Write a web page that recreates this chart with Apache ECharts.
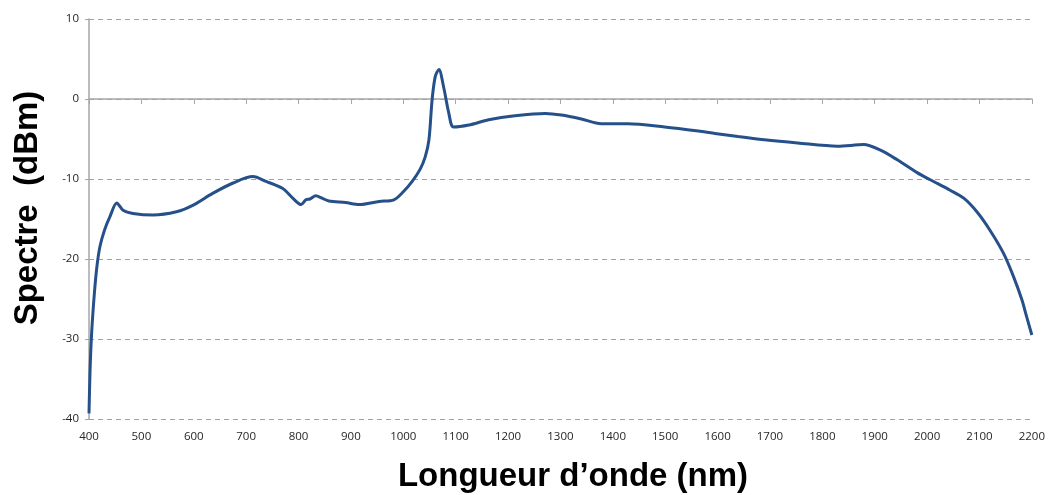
<!DOCTYPE html>
<html>
<head>
<meta charset="utf-8">
<script src="https://cdn.jsdelivr.net/npm/echarts@6/dist/echarts.min.js"></script>
<style>
  html, body { margin: 0; padding: 0; background: #fff; }
  #chart { width: 1048px; height: 495px; }
</style>
</head>
<body>
<div id="chart"></div>
<script>
// Wavelength samples (nm) and measured spectrum (dBm)
const wavelength = [
  400, 402, 405, 410, 415, 421, 430, 440, 453, 465, 484, 522, 567, 598, 636, 675, 713,
  738, 770, 789, 805, 814, 822, 833, 845, 858, 890, 916, 954, 982, 1000, 1017, 1032,
  1042, 1049, 1055, 1061, 1068, 1077, 1087, 1096, 1125, 1163, 1213, 1271, 1302, 1340,
  1378, 1429, 1499, 1563, 1595, 1639, 1689, 1753, 1829, 1879, 1911, 1943, 1981, 2006,
  2044, 2070, 2095, 2120, 2146, 2165, 2181, 2190, 2200
];
const spectre = [
  -39.3, -34, -29.3, -24.5, -21, -18.4, -16.3, -14.7, -13.0, -13.9, -14.3, -14.5, -14.1, -13.3, -11.8, -10.5, -9.7,
  -10.3, -11.2, -12.4, -13.2, -12.6, -12.5, -12.1, -12.4, -12.75, -12.95, -13.2, -12.8, -12.6, -11.6, -10.3, -8.8,
  -7.2, -5.1, -0.1, 2.8, 3.7, 1.5, -1.8, -3.5, -3.25, -2.6, -2.1, -1.8, -2.0, -2.5,
  -3.1, -3.1, -3.5, -4.0, -4.3, -4.7, -5.1, -5.5, -5.9, -5.7, -6.4, -7.6, -9.2, -10.1,
  -11.4, -12.4, -14.1, -16.4, -19.3, -22.2, -25.1, -27.2, -29.5
];
const xMin = 400, xMax = 2200, xStep = 100;
const yMin = -40, yMax = 10, yStep = 10;

const points = wavelength.map((w, i) => [w, spectre[i]]);
const axisGray = '#a6a6a6';
const labelFont = {
  fontFamily: 'Open Sans, Liberation Sans, sans-serif',
  fontSize: 11.5, color: '#262626',
  formatter: v => String(v)
};
const titleFont = 'bold 33px "Liberation Sans", Arial, sans-serif';

const chart = echarts.init(document.getElementById('chart'));
chart.setOption({
  animation: false,
  backgroundColor: '#fff',
  grid: { left: 89, right: 13, top: 19, bottom: 76 },
  xAxis: [
    {
      // axis line crossing at 0 dBm with its tick marks
      type: 'value', min: xMin, max: xMax, interval: xStep,
      axisLine: { show: true, onZero: true, lineStyle: { color: axisGray, width: 1.5 } },
      axisTick: { show: true, length: 5, lineStyle: { color: axisGray } },
      axisLabel: { show: false },
      splitLine: { show: false }
    },
    {
      // tick labels along the bottom edge
      type: 'value', position: 'bottom', min: xMin, max: xMax, interval: xStep,
      axisLine: { show: false }, axisTick: { show: false },
      axisLabel: Object.assign({ margin: 12 }, labelFont),
      splitLine: { show: false }
    }
  ],
  yAxis: {
    type: 'value', min: yMin, max: yMax, interval: yStep,
    axisLine: { show: true, lineStyle: { color: axisGray, width: 1.5 } },
    axisTick: { show: true, length: 4, lineStyle: { color: axisGray } },
    axisLabel: Object.assign({ margin: 10 }, labelFont),
    splitLine: { show: true, lineStyle: { color: '#a0a0a0', type: [5, 4], width: 1 } }
  },
  series: [{
    type: 'line',
    xAxisIndex: 0,
    data: points,
    smooth: 0.3,
    showSymbol: false,
    lineStyle: { color: '#26508a', width: 3 },
    z: 5
  }],
  graphic: [
    {
      type: 'text',
      x: 28, y: 208,
      rotation: Math.PI / 2,
      style: {
        text: 'Spectre  (dBm)', fill: '#000', font: titleFont,
        align: 'center', verticalAlign: 'middle'
      }
    },
    {
      type: 'text',
      x: 573, y: 477,
      style: {
        text: 'Longueur d\u2019onde (nm)', fill: '#000', font: titleFont,
        align: 'center', verticalAlign: 'middle'
      }
    }
  ]
});
</script>
</body>
</html>
